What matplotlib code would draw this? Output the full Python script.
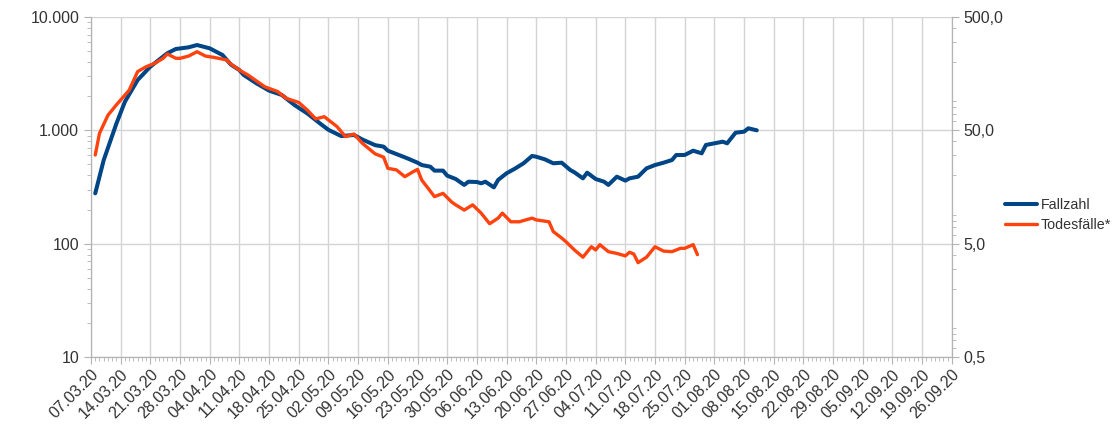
import matplotlib
matplotlib.use('Agg')
import matplotlib.pyplot as plt
import matplotlib.dates as mdates
from matplotlib.ticker import LogLocator, NullFormatter
import pandas as pd

plt.rcParams['font.family'] = ['Liberation Sans', 'DejaVu Sans']

# days since 07.03.20
start = pd.Timestamp('2020-03-07')

fall_days = [1, 3, 6, 8, 11, 14, 18, 20, 23, 25, 28, 31, 33, 35, 36, 39, 42, 45, 48,
             51, 54, 56, 59, 62, 64, 67, 69, 70, 72, 74, 75, 77, 78, 80, 81, 83, 84,
             86, 88, 89, 91, 92, 93, 95, 96, 98, 100, 102, 104, 105, 107, 109, 111,
             113, 114, 116, 117, 119, 121, 122, 124, 126, 127, 129, 131, 133, 135,
             137, 138, 140, 142, 144, 145, 147, 149, 150, 152, 154, 155, 157]
fallzahl = [278, 547, 1150, 1790, 2780, 3650, 4790, 5220, 5400, 5660, 5290, 4620,
            3800, 3400, 3080, 2600, 2240, 2050, 1670, 1410, 1150, 1010, 890, 910,
            830, 740, 718, 661, 618, 578, 558, 518, 494, 478, 441, 441, 398, 372,
            330, 352, 350, 341, 352, 314, 365, 418, 460, 512, 594, 585, 555, 512,
            518, 447, 426, 377, 423, 372, 352, 330, 390, 360, 377, 390, 462, 494,
            518, 547, 606, 606, 661, 627, 743, 768, 794, 768, 953, 973, 1042, 1000]

tod_days = [1, 2, 4, 6, 9, 11, 13, 15, 17, 18, 20, 21, 23, 25, 27, 29, 32, 33, 35,
            37, 41, 44, 46, 49, 51, 53, 55, 58, 60, 62, 64, 67, 69, 70, 72, 73, 74,
            76, 77, 78, 81, 83, 85, 86, 88, 90, 92, 94, 96, 97, 99, 101, 104, 105,
            108, 109, 111, 112, 114, 116, 118, 119, 120, 122, 124, 126, 127, 128,
            129, 131, 133, 135, 137, 139, 140, 142, 143]
todesfaelle = [30.3, 47, 68, 84, 113, 165, 182, 195, 216, 236, 216, 216, 226, 247,
               226, 220, 209, 192, 170, 154, 121, 110, 96, 88, 75.5, 63, 66, 54, 44,
               46.4, 38.4, 31, 29, 23.1, 22.4, 20.9, 19.5, 21.6, 22.6, 18.2, 13,
               13.9, 11.7, 11, 9.9, 11, 9.3, 7.5, 8.4, 9.3, 7.8, 7.8, 8.4, 8.1, 7.8,
               6.4, 5.6, 5.2, 4.4, 3.8, 4.7, 4.4, 4.9, 4.25, 4.1, 3.9, 4.2, 4.05,
               3.4, 3.8, 4.7, 4.3, 4.25, 4.55, 4.55, 4.9, 4.0]

left_ticks = [10, 100, 1000, 10000]
left_labels = ['10', '100', '1.000', '10.000']
right_ticks = [0.5, 5, 50, 500]
right_labels = ['0,5', '5,0', '50,0', '500,0']

fall_dates = start + pd.to_timedelta(fall_days, unit='D')
tod_dates = start + pd.to_timedelta(tod_days, unit='D')
end = pd.Timestamp('2020-09-26')
week_ticks = pd.date_range(start, end, freq='7D')

grid_c = '#d4d4d4'
txt_c = '#333333'
fs = 11.5

fig = plt.figure(figsize=(11.18, 4.25), dpi=100)
ax = fig.add_axes([0.0814, 0.16, 0.77, 0.80])
ax2 = ax.twinx()

l1, = ax.plot(fall_dates, fallzahl, color='#004586', lw=2.9, solid_capstyle='round')
l2, = ax2.plot(tod_dates, todesfaelle, color='#ff420e', lw=2.4, solid_capstyle='round')

ax.set_yscale('log')
ax.set_ylim(10, 10000)
ax2.set_yscale('log')
ax2.set_ylim(0.5, 500)
ax.set_xlim(start, end)

ax.set_yticks(left_ticks)
ax.set_yticklabels(left_labels)
ax2.set_yticks(right_ticks)
ax2.set_yticklabels(right_labels)
for a in (ax, ax2):
    a.yaxis.set_minor_locator(LogLocator(base=10, subs=range(2, 10)))
    a.yaxis.set_minor_formatter(NullFormatter())

ax.set_xticks(week_ticks)
ax.set_xticklabels([d.strftime('%d.%m.%y') for d in week_ticks],
                   rotation=45, ha='right', va='top', rotation_mode='anchor')
ax.xaxis.set_minor_locator(mdates.DayLocator())

ax.grid(True, which='major', color=grid_c, lw=1)
ax.set_axisbelow(True)
ax2.set_axisbelow(True)

for a in (ax, ax2):
    for s in a.spines.values():
        s.set_color('#b3b3b3')
    a.spines['top'].set_visible(False)
    a.tick_params(which='both', colors='#b3b3b3', labelcolor=txt_c, labelsize=fs)
    a.tick_params(which='major', length=5)
    a.tick_params(which='minor', length=3)
ax.tick_params(axis='x', pad=2)

fig.legend([l1, l2], ['Fallzahl', 'Todesfälle*'], loc='center left',
           bbox_to_anchor=(0.899, 0.494), frameon=False, fontsize=10.3,
           borderpad=0, borderaxespad=0, handlelength=2.2, handletextpad=0.3,
           labelspacing=0.45, labelcolor=txt_c)

fig.savefig('out.png', dpi=100)
